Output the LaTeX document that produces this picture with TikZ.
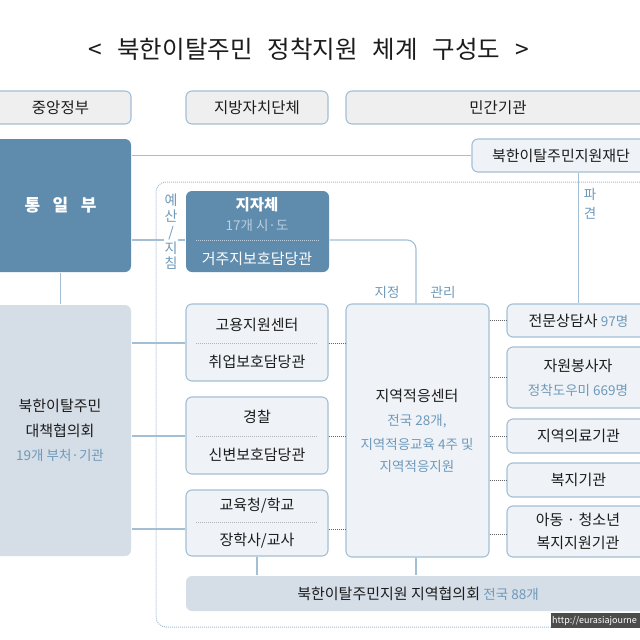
\documentclass[tikz,border=0pt]{standalone}
\usepackage{fontspec}
\setmainfont{Noto Sans CJK KR}
\usepackage{tikz}
\usetikzlibrary{calc}
\definecolor{lineblue}{HTML}{A3BFD5}
\definecolor{deepblue}{HTML}{5F8BAD}
\definecolor{paleblue}{HTML}{D5DDE7}
\definecolor{iceblue}{HTML}{EFF3F7}
\definecolor{headgray}{HTML}{EFEFEF}
\definecolor{noteblue}{HTML}{6E99BA}
\definecolor{inkgray}{HTML}{1C1C1C}
\definecolor{softwhite}{HTML}{B9CFE0}
\tikzset{
  box/.style={draw=lineblue,line width=1.1pt,rounded corners=6pt,inner sep=0pt,text=inkgray,font=\fontsize{15}{18}\selectfont},
  headbox/.style={box,fill=headgray,minimum height=33pt,font=\fontsize{15.5}{18}\selectfont},
  icebox/.style={box,fill=iceblue},
  deepbox/.style={box,draw=none,fill=deepblue},
  palebox/.style={box,draw=none,fill=paleblue},
  txt/.style={inner sep=0pt,text=inkgray,font=\fontsize{15}{18}\selectfont},
  note/.style={txt,text=noteblue,font=\fontsize{13.5}{16}\selectfont},
  link/.style={draw=lineblue,line width=1.1pt},
  dots/.style={draw=gray!80!black,line width=0.9pt,dash pattern=on 1pt off 1pt},
  sep/.style={draw=gray!60,line width=0.8pt,dash pattern=on 1pt off 1pt}
}
\begin{document}
\begin{tikzpicture}[x=1pt,y=-1pt]
    \useasboundingbox (0,0) rectangle (640,640);
    \fill[white] (0,0) rectangle (640,640);
    % title
    \draw (309,49) node[txt,font=\fontsize{24.5}{28}\selectfont](title) {<\hspace{15pt}북한이탈주민\hspace{15pt}정착지원\hspace{15pt}체계\hspace{15pt}구성도\hspace{15pt}>};
    % frame behind the local bodies
    \draw (408,404.5) node[draw=lineblue,line width=1pt,dash pattern=on 1pt off 1pt,rounded corners=10pt,minimum width=504pt,minimum height=445pt,inner sep=0pt](frame) {};
    % header row
    \draw
    (60.5,107.5) node[headbox,minimum width=141pt](central) {중앙정부}
    (257,107.5) node[headbox,minimum width=142pt](local) {지방자치단체}
    (498,107.5) node[headbox,minimum width=304pt](private) {민간기관};
    % left column
    \draw
    (60.5,205.5) node[deepbox,minimum width=141pt,minimum height=133pt,text=white,font=\fontsize{17}{20}\bfseries\selectfont](unif) {통\hspace{12.5pt}일\hspace{12.5pt}부}
    (60.5,430.5) node[palebox,minimum width=141pt,minimum height=251pt](council) {}
    (561,155.5) node[box,fill=iceblue,minimum width=178pt,minimum height=33pt](found) {북한이탈주민지원재단};
    \draw
    (60,406) node[txt](councilA) {북한이탈주민}
    (60,431) node[txt](councilB) {대책협의회}
    (60,455) node[note](councilC) {19개 부처·기관};
    % local government
    \draw
    (257.5,231.5) node[deepbox,minimum width=143pt,minimum height=81pt](gov) {}
    (257,205) node[txt,text=white,font=\fontsize{15.5}{18}\bfseries\selectfont](govA) {지자체}
    (257,225) node[note,text=softwhite](govB) {17개 시·도}
    (257,259) node[txt,text=white](govC) {거주지보호담당관}
    (257,240) coordinate(govsep);
    % middle column
    \draw
    (257,342.5) node[icebox,minimum width=142pt,minimum height=77pt](job) {}
    (257,325) node[txt](jobA) {고용지원센터}
    (257,362) node[txt](jobB) {취업보호담당관}
    (257,343) coordinate(jobsep)
    (257,435.5) node[icebox,minimum width=142pt,minimum height=77pt](police) {}
    (257,417) node[txt](policeA) {경찰}
    (257,455) node[txt](policeB) {신변보호담당관}
    (257,436) coordinate(policesep)
    (257,523) node[icebox,minimum width=142pt,minimum height=66pt](edu) {}
    (257,506) node[txt](eduA) {교육청/학교}
    (257,541) node[txt](eduB) {장학사/교사}
    (257,529) coordinate(edusep);
    % adaptation centre
    \draw
    (417.5,430.5) node[icebox,minimum width=143pt,minimum height=253pt](adapt) {}
    (417,396) node[txt](adaptA) {지역적응센터}
    (417,421) node[note](adaptB) {전국 28개,}
    (417,444) node[note](adaptC) {지역적응교육 4주 및}
    (417,466) node[note](adaptD) {지역적응지원};
    % right column
    \draw
    (578.5,320.5) node[icebox,minimum width=143pt,minimum height=33pt](expert) {전문상담사 {\fontsize{13.5}{16}\selectfont\color{noteblue}97명}}
    (578.5,377.5) node[icebox,minimum width=143pt,minimum height=61pt](volun) {}
    (578,366) node[txt](volunA) {자원봉사자}
    (578,390) node[note](volunB) {정착도우미 669명}
    (578.5,436) node[icebox,minimum width=143pt,minimum height=34pt](medic) {지역의료기관}
    (578.5,480) node[icebox,minimum width=143pt,minimum height=34pt](welfare) {복지기관}
    (578.5,531.5) node[icebox,minimum width=143pt,minimum height=51pt](youth) {}
    (578,520) node[txt](youthA) {아동 · 청소년}
    (578,543) node[txt](youthB) {복지지원기관};
    % bottom bar
    \draw (418,593.5) node[palebox,minimum width=464pt,minimum height=35pt](bar) {북한이탈주민지원 지역협의회 {\fontsize{13.5}{16}\selectfont\color{noteblue}전국 88개}};
    % links
    \draw[link]
    (unif.east |- found) edge (found.west)
    (unif.south) edge (council.north)
    (unif.east |- govsep) edge (gov.west |- govsep)
    (council.east |- jobsep) edge (job.west |- jobsep)
    (council.east |- policesep) edge (police.west |- policesep)
    (council.east |- edusep) edge (edu.west |- edusep)
    (edu.south) edge (edu.south |- bar.north)
    ([xshift=-1.5pt]adapt.south) edge ([xshift=-1.5pt]adapt.south |- bar.north)
    (found.south -| expert.north) edge (expert.north);
    \draw[link,rounded corners=9pt] (gov.east |- govsep) -| ([xshift=-1.5pt]adapt.north);
    % dotted ties
    \draw[dots]
    (job.east |- jobsep) edge (adapt.west |- jobsep)
    (police.east |- policesep) edge (adapt.west |- policesep)
    (edu.east |- edusep) edge (adapt.west |- edusep)
    (adapt.east |- expert) edge (expert.west)
    (adapt.east |- volun) edge (volun.west)
    (adapt.east |- medic) edge (medic.west)
    (adapt.east |- welfare) edge (welfare.west)
    ([yshift=-2.5pt]adapt.east |- youth) edge ([yshift=-2.5pt]youth.west);
    % dotted rules inside the boxes
    \draw[sep,draw=softwhite] ([xshift=11pt]gov.west |- govsep) -- ([xshift=-11pt]gov.east |- govsep);
    \draw[sep] ([xshift=11pt]job.west |- jobsep) -- ([xshift=-11pt]job.east |- jobsep);
    \draw[sep] ([xshift=11pt]police.west |- policesep) -- ([xshift=-11pt]police.east |- policesep);
    \draw[sep] ([xshift=11pt]edu.west |- 0,522) -- ([xshift=-11pt]edu.east |- 0,522);
    % link labels
    \draw
    (171,232) node[note,fill=white,inner sep=1pt,align=center,font=\fontsize{14}{15.8}\selectfont](budget) {예\\산\\/\\지\\침}
    (387,292) node[note](assign) {지정}
    (443,292) node[note](manage) {관리}
    (590,194) node[note](sendA) {파}
    (590,213) node[note](sendB) {견};
    % web address strip
    \fill[black!70] (551,613) rectangle (640,628);
    \draw (552,620.5) node[anchor=west,inner sep=0pt,text=white,font=\fontsize{9}{11}\selectfont](web) {http://eurasiajourne};
  \end{tikzpicture}
\end{document}
